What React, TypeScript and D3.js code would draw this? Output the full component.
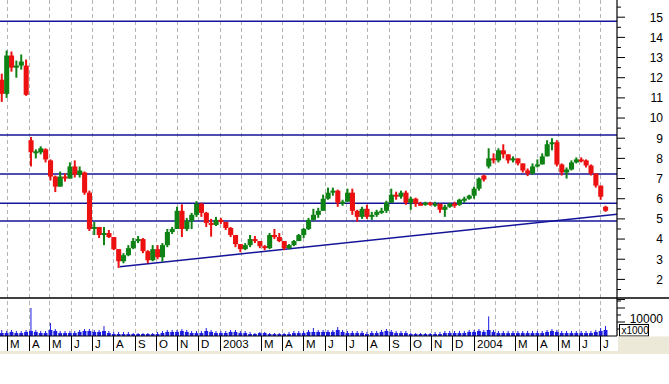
import React from "react";
import * as d3 from "d3";

// ---- data (weekly bars) ----
const firstWeek = new Date(2002, 1, 18);
const opens = [11.9,11.2,13.1,12.5,12.6,12.6,8.9,8.3,8.3,8.45,7.9,7.1,6.6,7.1,7.0,7.6,7.2,7.3,6.3,4.5,4.6,4.2,4.3,4.1,3.5,2.9,3.2,3.55,3.9,4.0,3.4,2.95,3.5,3.1,3.7,4.35,4.5,5.4,4.5,4.9,5.2,5.75,5.3,4.8,4.7,4.95,4.85,4.55,4.2,3.75,3.5,3.7,4.0,3.9,3.65,3.55,4.2,4.1,3.9,3.55,3.7,3.9,4.2,4.5,4.95,5.2,5.4,6.0,6.3,6.4,5.8,5.85,6.3,5.4,5.1,5.5,5.1,5.2,5.35,5.4,5.8,6.2,6.1,6.3,5.8,6.0,5.75,5.7,5.8,5.7,5.75,5.45,5.6,5.75,5.7,5.95,6.0,6.15,6.5,7.15,7.6,8.0,7.9,8.4,8.2,7.9,8.0,7.75,7.4,7.25,7.6,7.7,8.1,8.7,8.8,7.7,7.3,7.45,7.8,7.95,7.9,7.65,7.25,6.65,5.6];
const highs = [12.2,13.35,13.3,12.85,13.15,12.9,9.06,8.45,8.6,8.5,7.95,7.15,7.35,7.25,7.8,7.9,7.6,7.35,6.4,4.85,4.6,4.6,4.45,4.1,3.5,3.3,3.7,4.05,4.15,4.05,3.45,3.7,3.7,3.8,4.5,4.6,5.6,5.72,5.05,5.3,5.88,5.8,5.35,5.0,5.1,5.05,4.85,4.6,4.2,3.75,3.8,4.2,4.15,3.9,3.7,4.3,4.5,4.3,3.9,3.75,3.95,4.25,4.55,5.05,5.5,5.55,6.2,6.55,6.55,6.45,5.95,6.5,6.5,5.45,5.6,5.7,5.35,5.45,5.55,5.9,6.5,6.35,6.4,6.4,6.1,6.05,5.85,5.85,5.85,5.85,5.75,5.7,5.8,5.85,6.0,6.1,6.2,6.6,7.05,7.2,8.5,8.25,8.5,8.7,8.2,8.1,8.0,7.75,7.5,7.75,7.95,8.25,8.9,9.0,8.9,7.75,7.55,7.9,8.05,8.05,7.95,7.7,7.25,6.65,5.65];
const lows = [10.8,11.0,12.3,12.0,12.4,11.1,7.6,8.0,8.2,7.8,6.9,6.33,6.6,6.85,7.0,7.05,7.05,6.2,4.4,4.2,4.05,3.7,4.05,3.45,2.57,2.8,3.15,3.5,3.8,3.3,2.8,2.9,3.0,2.88,3.6,4.25,4.5,4.1,4.4,4.5,5.1,5.1,4.6,4.12,4.65,4.75,4.45,4.1,3.6,3.35,3.45,3.6,3.8,3.55,3.45,3.5,4.0,3.85,3.45,3.5,3.65,3.9,4.05,4.45,4.9,5.05,5.4,5.95,6.15,5.6,5.65,5.85,5.2,4.86,5.0,5.0,4.95,5.1,5.25,5.3,5.8,5.95,6.0,5.7,5.45,5.6,5.65,5.65,5.65,5.6,5.3,5.1,5.55,5.55,5.65,5.8,5.95,6.0,6.4,6.85,7.5,7.75,7.8,8.0,7.75,7.8,7.65,7.3,7.12,7.2,7.55,7.7,8.1,8.4,7.6,7.15,7.0,7.4,7.75,7.8,7.55,7.15,6.55,5.95,5.35];
const closes = [11.2,13.1,12.5,12.6,12.8,11.15,8.3,8.35,8.5,7.95,7.1,6.6,7.1,7.0,7.6,7.2,7.4,6.3,4.5,4.6,4.2,4.3,4.1,3.5,2.9,3.2,3.55,3.9,4.0,3.4,2.95,3.5,3.1,3.7,4.35,4.5,5.4,4.5,4.9,5.2,5.75,5.3,4.8,4.7,4.95,4.85,4.55,4.2,3.75,3.5,3.7,4.0,3.9,3.65,3.55,4.2,4.1,3.9,3.55,3.7,3.9,4.2,4.5,4.95,5.2,5.4,6.0,6.3,6.4,5.8,5.85,6.3,5.4,5.1,5.5,5.1,5.2,5.35,5.4,5.8,6.2,6.1,6.3,5.8,6.0,5.75,5.7,5.8,5.7,5.75,5.45,5.6,5.75,5.7,5.95,6.0,6.15,6.5,7.0,6.95,8.0,7.9,8.4,8.2,7.9,8.0,7.75,7.4,7.25,7.6,7.7,8.1,8.7,8.8,7.7,7.3,7.45,7.8,7.95,7.9,7.65,7.25,6.65,6.1,5.4];
// weekly volume in thousands: typical level and the peak day
const volTypical = [2100,2100,2900,2100,2100,2900,3600,2900,2100,2100,4300,3600,2100,2100,2100,2100,2900,3600,3600,2900,2900,3600,2100,1400,1400,1400,1400,1400,1400,1400,1400,1400,1400,2100,2900,2900,2900,3600,2900,2100,2100,2100,3600,2900,2100,2100,2100,2900,2900,2100,2100,1400,1400,2100,2100,1400,1400,1400,1400,1400,2100,2100,2100,2900,2900,2900,2900,2900,2900,4300,2900,2100,2100,2100,2100,1400,2100,2100,2900,3600,2900,2100,2100,2100,1400,1400,1400,1400,1400,1400,1400,2100,2100,2100,2100,2100,2900,2900,3600,2900,4300,2900,2100,2100,2100,2100,2100,2100,2100,2100,2100,2100,2900,3600,2900,2100,2100,2100,2100,2100,2100,2100,2900,3600,4300];
const volPeak = [4300,3600,4300,3600,3600,4300,20000,4300,3600,3600,9300,5000,3600,3600,3600,3600,4300,5000,5000,4300,4300,7100,3600,2900,2900,2900,2900,2100,2100,2100,2100,2100,2900,3600,4300,4300,4300,5000,4300,3600,3600,3600,5700,4300,3600,3600,3600,4300,4300,3600,3600,2900,2100,2900,2900,2100,2100,2100,2100,2900,3600,3600,3600,4300,5700,4300,4300,4300,4300,6400,4300,3600,3600,3600,3600,2900,3600,3600,4300,5000,4300,3600,3600,3600,2100,2100,2100,2100,2100,2900,2900,3600,3600,3600,3600,3600,4300,4300,5000,4300,14000,4300,3600,3600,3600,3600,3600,3600,3600,3600,3600,3600,4300,5000,4300,3600,3600,3600,3600,3600,3600,3600,4300,5700,7100];
const levels = [14.8, 9.155, 7.22, 5.77, 4.9];
const trendLine = [
  { date: new Date(2002, 7, 10), value: 2.63 },
  { date: new Date(2004, 6, 25), value: 5.23 },
];
const priceTicks = [2, 3, 4, 5, 6, 7, 8, 9, 10, 11, 12, 13, 14, 15];
const monthLabels = ["M","A","M","J","J","A","S","O","N","D","2003","","M","A","M","J","J","A","S","O","N","D","2004","","M","A","M","J","J"];
const firstMonth = new Date(2002, 2, 1);

const W = 669;
const PLOT_R = 617;
const MAIN_B = 298;
const VOL_B = 336;
const AX_B = 351;

export default function App() {
  const x = d3.scaleTime().domain([new Date(2002, 1, 19), new Date(2004, 6, 25)]).range([0, PLOT_R]);
  const y = d3.scaleLinear().domain([2, 15]).range([279.4, 17.2]);
  const yv = d3.scaleLinear().domain([0, 10000]).range([VOL_B, 322]);

  const months = monthLabels.map((lab, i) => ({ lab, date: d3.timeMonth.offset(firstMonth, i) }));
  const gridMonths = [...months, { lab: "", date: new Date(2002, 1, 1) }];

  const up = "#0e8214";
  const down = "#ec1010";
  const lineBlue = "#14149a";

  const bars = opens.map((o, i) => {
    const s = d3.timeDay.offset(firstWeek, 7 * i);
    const e = d3.timeDay.offset(firstWeek, 7 * i + 7);
    return { o, h: highs[i], l: lows[i], c: closes[i], x0: x(s), x1: x(e), vt: volTypical[i], vp: volPeak[i] };
  });

  const minorTicks = d3.range(1.5, 16, 0.5).filter((v) => !Number.isInteger(v));
  const allMajor = d3.range(1, 17);

  return (
    <svg width={W} height={384} style={{ position: "absolute", left: 0, top: 0, background: "#fff" }}
      fontFamily="'Liberation Sans', Arial, sans-serif">
      <defs>
        <clipPath id="plot"><rect x={0} y={0} width={PLOT_R} height={MAIN_B} /></clipPath>
        <clipPath id="vol"><rect x={0} y={MAIN_B} width={PLOT_R} height={VOL_B - MAIN_B} /></clipPath>
      </defs>
      <rect x={0} y={0} width={W} height={384} fill="#fff" />
      {/* grid */}
      {gridMonths.map((m, i) => (
        <line key={i} x1={Math.round(x(m.date)) + 0.5} x2={Math.round(x(m.date)) + 0.5} y1={0} y2={VOL_B}
          stroke="#b4b4b4" strokeDasharray="4,3" strokeWidth={1} />
      ))}
      {/* levels */}
      <g clipPath="url(#plot)">
        {levels.map((v, i) => (
          <line key={i} x1={0} x2={PLOT_R} y1={y(v)} y2={y(v)} stroke={lineBlue} strokeWidth={1.5} />
        ))}
        <line x1={x(trendLine[0].date)} y1={y(trendLine[0].value)} x2={x(trendLine[1].date)} y2={y(trendLine[1].value)}
          stroke={lineBlue} strokeWidth={1.5} />
        {bars.map((b, i) => {
          const col = b.c >= b.o ? up : down;
          const cx = (b.x0 + b.x1) / 2;
          const yt = y(Math.max(b.o, b.c));
          const yb = y(Math.min(b.o, b.c));
          return (
            <g key={i}>
              <line x1={cx} x2={cx} y1={y(b.h)} y2={y(b.l)} stroke={col} strokeWidth={2} />
              <rect x={b.x0} width={b.x1 - b.x0 + 0.2} y={yt} height={Math.max(2, yb - yt)} fill={col} />
            </g>
          );
        })}
      </g>
      {/* volume */}
      <g clipPath="url(#vol)">
        {bars.map((b, i) => {
          const cx = (b.x0 + b.x1) / 2;
          return (
            <g key={i}>
              <rect x={b.x0 + 0.5} width={b.x1 - b.x0 - 1} y={yv(b.vt)} height={VOL_B - yv(b.vt)} fill="#1c1ce0" />
              <line x1={cx} x2={cx} y1={yv(b.vp)} y2={VOL_B} stroke="#1c1ce0" strokeWidth={1} />
            </g>
          );
        })}
      </g>
      {/* separators */}
      <line x1={0} x2={W} y1={MAIN_B} y2={MAIN_B} stroke="#000" strokeWidth={1.5} />
      <line x1={PLOT_R} x2={PLOT_R} y1={0} y2={VOL_B} stroke="#000" strokeWidth={1.2} />
      {/* price axis */}
      {allMajor.map((v) => (
        <line key={"M" + v} x1={PLOT_R} x2={PLOT_R + 8} y1={y(v)} y2={y(v)} stroke="#000" />
      ))}
      {minorTicks.map((v) => (
        <line key={"m" + v} x1={PLOT_R} x2={PLOT_R + 4} y1={y(v)} y2={y(v)} stroke="#000" />
      ))}
      {priceTicks.map((v) => (
        <text key={v} x={663} y={y(v)} dy="0.36em" textAnchor="end" fontSize={12} fill="#000">{v}</text>
      ))}
      {/* volume axis */}
      {[5000, 10000, 15000, 20000, 25000].map((v) => (
        <line key={v} x1={PLOT_R} x2={PLOT_R + (v % 10000 === 0 ? 8 : 4)} y1={yv(v)} y2={yv(v)} stroke="#000" />
      ))}
      <text x={663} y={yv(10000) - 3.5} dy="0.36em" textAnchor="end" fontSize={12}>10000</text>
      <rect x={619.5} y={324.5} width={29} height={11.5} fill="#fff" stroke="#000" />
      <text x={621.5} y={333.5} fontSize={10}>x1000</text>
      {/* time axis */}
      <rect x={PLOT_R + 1} y={VOL_B + 0.5} width={W - PLOT_R} height={AX_B - VOL_B + 2} fill="#ece9d8" />
      <line x1={0} x2={PLOT_R} y1={VOL_B} y2={VOL_B} stroke="#000" strokeWidth={1.2} />
      <line x1={0} x2={W} y1={AX_B + 1.5} y2={AX_B + 1.5} stroke="#ece9d8" strokeWidth={3} />
      {months.filter((m) => m.lab).map((m, i) => {
        const px = Math.round(x(m.date)) + 0.5;
        return (
          <g key={i}>
            <line x1={px} x2={px} y1={VOL_B} y2={AX_B} stroke="#000" />
            <text x={px + 2.5} y={348} fontSize={11.5} fill="#000">{m.lab}</text>
          </g>
        );
      })}
    </svg>
  );
}
